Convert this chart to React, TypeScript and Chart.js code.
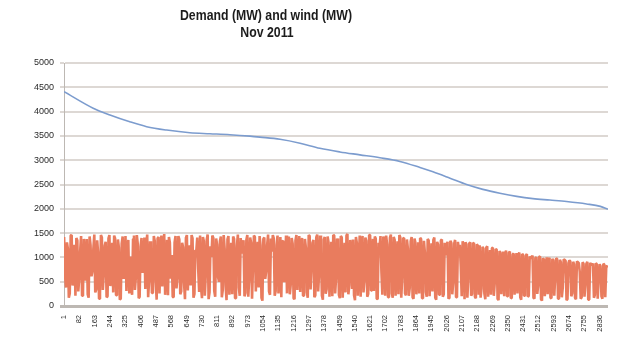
import React, { useEffect, useRef } from "react";
import { Chart, registerables } from "chart.js";

Chart.register(...registerables);

const TITLE_LINES = ["Demand (MW) and wind (MW)", "Nov 2011"];

const X_TICKS = [
  1, 82, 163, 244, 325, 406, 487, 568, 649, 730, 811, 892, 973, 1054, 1135, 1216, 1297, 1378,
  1459, 1540, 1621, 1702, 1783, 1864, 1945, 2026, 2107, 2188, 2269, 2350, 2431, 2512, 2593,
  2674, 2755, 2836,
];

const DEMAND_INDEX = [
  1, 155, 244, 349, 438, 544, 667, 773, 879, 985, 1038, 1144, 1250, 1355, 1461, 1567, 1673,
  1779, 1885, 1954, 2044, 2132, 2218, 2308, 2397, 2483, 2573, 2661, 2767, 2840, 2880,
];
const DEMAND_MW = [
  4410, 4070, 3930, 3790, 3690, 3620, 3565, 3545, 3525, 3495, 3475, 3430, 3350, 3245, 3170,
  3110, 3050, 2975, 2850, 2760, 2630, 2500, 2400, 2320, 2255, 2210, 2180, 2150, 2100, 2050,
  1990,
];

// wind readings, two per block of ten intervals (first at index 10k+1, second at 10k+6)
const WIND_STEP = 10;
const WIND_OFFSET_B = 5;
const WIND_MW_A = [
  1420, 380, 1180, 260, 1460, 820, 210, 1350, 560, 1440, 290, 990,
  1380, 170, 1250, 720, 1470, 340, 1100, 240, 1410, 650, 1320, 200,
  1460, 900, 280, 1390, 470, 1200, 150, 1430, 780, 310, 1360, 1020,
  230, 1450, 600, 1280, 190, 1400, 860, 350, 1470, 520, 1150, 270,
  1340, 130, 1420, 950, 400, 1480, 700, 220, 1300, 1050, 180, 1440,
  580, 1370, 300, 1210, 140, 1460, 880, 420, 1390, 250, 1130, 760,
  1450, 160, 1330, 640, 1470, 280, 1010, 1400, 190, 1260, 500, 1430,
  330, 1180, 120, 1440, 830, 240, 1380, 690, 1470, 210, 1080, 1350,
  270, 1460, 560, 1300, 150, 1420, 940, 380, 1250, 110, 1410, 730,
  1470, 230, 1120, 1390, 310, 1450, 620, 180, 1340, 860, 260, 1430,
  450, 1280, 140, 1460, 990, 290, 1400, 540, 1200, 170, 1440, 800,
  1360, 220, 1470, 670, 1060, 130, 1420, 350, 1310, 910, 200, 1450,
  590, 1230, 160, 1410, 760, 280, 1480, 430, 1150, 1370, 120, 1290,
  870, 190, 1440, 520, 1340, 250, 1460, 1000, 310, 1390, 140, 1200,
  710, 1430, 210, 1270, 460, 1470, 170, 1360, 930, 240, 1410, 600,
  1400, 220, 1180, 380, 1420, 150, 1300, 760, 260, 1380, 540, 1100,
  190, 1350, 880, 300, 1410, 130, 1260, 620, 1370, 240, 1040, 1320,
  170, 1300, 480, 1360, 210, 1150, 820, 1330, 140, 1270, 590, 1310,
  250, 1290, 160, 1240,
  1250, 360, 1180, 140, 1230, 700, 230, 1200, 480, 1160, 120, 1100,
  920, 200, 1140, 560, 1120, 170, 1080, 780, 260, 1100, 130, 1050,
  640, 1070, 210, 980, 1040, 150, 1000, 430, 1020, 110, 960, 820,
  240, 990, 160, 940, 600, 970, 190, 900, 380, 950, 120, 880,
  920, 260, 860, 140, 900, 700, 180, 870, 470, 910, 130, 840,
  880, 230, 860, 560, 820, 150, 850, 780,
];
const WIND_MW_B = [
  640, 1310, 170, 1450, 420, 1260, 1400, 300, 1120, 210, 1380, 520,
  240, 1430, 610, 1180, 280, 1350, 150, 1460, 330, 1240, 180, 1390,
  410, 1300, 1450, 220, 1370, 130, 1280, 560, 1440, 1190, 260, 470,
  1380, 330, 1460, 160, 1220, 680, 1410, 1250, 180, 1330, 270, 1440,
  520, 1390, 260, 1450, 1180, 230, 1360, 1420, 560, 190, 1310, 360,
  1440, 240, 1300, 480, 1400, 320, 1250, 1460, 170, 1150, 1410, 290,
  380, 1420, 210, 1360, 140, 1230, 1450, 310, 1390, 600, 1330, 180,
  1460, 420, 1370, 230, 1300, 1430, 160, 1250, 380, 1400, 1280, 200,
  1360, 190, 1410, 150, 1450, 300, 1320, 1440, 170, 1380, 560, 1260,
  300, 1390, 1460, 210, 1250, 260, 1420, 1330, 490, 1450, 1170, 240,
  1400, 160, 1350, 330, 1440, 1220, 210, 1380, 280, 1460, 340, 1300,
  180, 1410, 300, 1450, 210, 1370, 250, 1430, 190, 1320, 1460, 260,
  1390, 230, 1440, 170, 1300, 1450, 240, 1360, 350, 220, 1420, 210,
  1450, 1280, 280, 1410, 190, 1460, 320, 1380, 1430, 150, 1300, 1440,
  230, 1360, 1450, 180, 1400, 260, 1420, 210, 1330, 1460, 170, 1390,
  260, 1370, 210, 1330, 180, 1390, 240, 1310, 1400, 160, 1340, 290,
  1380, 200, 1290, 1360, 170, 1320, 230, 1350, 190, 1300, 1250, 150,
  1340, 240, 1280, 180, 1320, 1260, 200, 1240, 1310, 170, 1290, 210,
  1300, 190, 1270, 230,
  170, 1220, 260, 1200, 190, 1150, 1190, 210, 1170, 150, 1130, 240,
  1120, 1080, 200, 1100, 160, 1060, 230, 1090, 1050, 180, 1070, 210,
  1040, 190, 1020, 1000, 170, 990, 250, 1010, 140, 980, 200, 1000,
  960, 170, 970, 210, 980, 150, 950, 180, 960, 930, 140, 940,
  200, 910, 170, 920, 880, 150, 900, 190, 870, 130, 890, 860,
  170, 880, 150, 860, 200, 870, 180, 840,
];

const titlePlugin = {
  id: "customTitle",
  afterDraw(chart: any) {
    const ctx = chart.ctx;
    ctx.save();
    ctx.fillStyle = "#1c1c1c";
    ctx.font = 'bold 14px "Liberation Sans", Arial, sans-serif';
    ctx.textAlign = "center";
    ctx.textBaseline = "middle";
    const w = ctx.measureText(TITLE_LINES[0]).width;
    const sx = 172 / w;
    ctx.save();
    ctx.translate(266, 16);
    ctx.scale(sx, 1);
    ctx.fillText(TITLE_LINES[0], 0, 0);
    ctx.restore();
    ctx.save();
    ctx.translate(267, 33);
    ctx.scale(sx, 1);
    ctx.fillText(TITLE_LINES[1], 0, 0);
    ctx.restore();
    ctx.restore();
  },
};

export default function App() {
  const ref = useRef<HTMLCanvasElement>(null);

  useEffect(() => {
    document.body.style.margin = "0";
    const canvas = ref.current!;
    const windData: { x: number; y: number }[] = [];
    WIND_MW_A.forEach((v, k) => {
      windData.push({ x: k * WIND_STEP + 1, y: v });
      windData.push({ x: k * WIND_STEP + 1 + WIND_OFFSET_B, y: WIND_MW_B[k] });
    });
    const chart = new Chart(canvas, {
      type: "line",
      data: {
        datasets: [
          {
            label: "Demand (MW)",
            data: DEMAND_MW.map((v, i) => ({ x: DEMAND_INDEX[i], y: v })),
            borderColor: "rgb(124,156,206)",
            borderWidth: 1.6,
            pointRadius: 0,
            cubicInterpolationMode: "monotone",
          },
          {
            label: "Wind (MW)",
            data: windData,
            borderColor: "rgb(233,124,94)",
            borderWidth: 2.6,
            borderJoinStyle: "bevel",
            pointRadius: 0,
            tension: 0,
          },
        ],
      },
      options: {
        responsive: false,
        animation: false,
        devicePixelRatio: 1,
        layout: { padding: { top: 63, right: 27, bottom: 0, left: 0 } },
        plugins: { legend: { display: false }, tooltip: { enabled: false }, title: { display: false } },
        scales: {
          x: {
            type: "linear",
            min: 0.5,
            max: 2880.5,
            afterBuildTicks: (scale: any) => {
              scale.ticks = X_TICKS.map((v) => ({ value: v }));
            },
            afterFit: (scale: any) => {
              scale.height = 48;
            },
            ticks: {
              autoSkip: false,
              minRotation: 90,
              maxRotation: 90,
              padding: 1,
              color: "#2a2a2a",
              font: { family: '"Liberation Sans", Arial, sans-serif', size: 7.5 },
              callback: (v: any) => String(v),
            },
            grid: { display: false },
            border: { display: false },
          },
          y: {
            min: 0,
            max: 5000,
            afterFit: (scale: any) => {
              scale.width = 64;
            },
            ticks: {
              stepSize: 500,
              padding: 6,
              color: "#2a2a2a",
              font: { family: '"Liberation Sans", Arial, sans-serif', size: 9 },
              callback: (v: any) => String(v),
            },
            grid: {
              color: (c: any) => (c.tick && c.tick.value === 0 ? "#bdb8b3" : "#ddd8d4"),
              lineWidth: (c: any) => (c.tick && c.tick.value === 0 ? 3 : 2),
              tickLength: 4,
            },
            border: { display: true, color: "#bdb8b3", width: 1 },
          },
        },
      },
      plugins: [titlePlugin],
    });
    return () => chart.destroy();
  }, []);

  return (
    <div style={{ position: "absolute", left: 0, top: 0, width: 635, height: 354, background: "#fff" }}>
      <canvas ref={ref} width={635} height={354} />
    </div>
  );
}
